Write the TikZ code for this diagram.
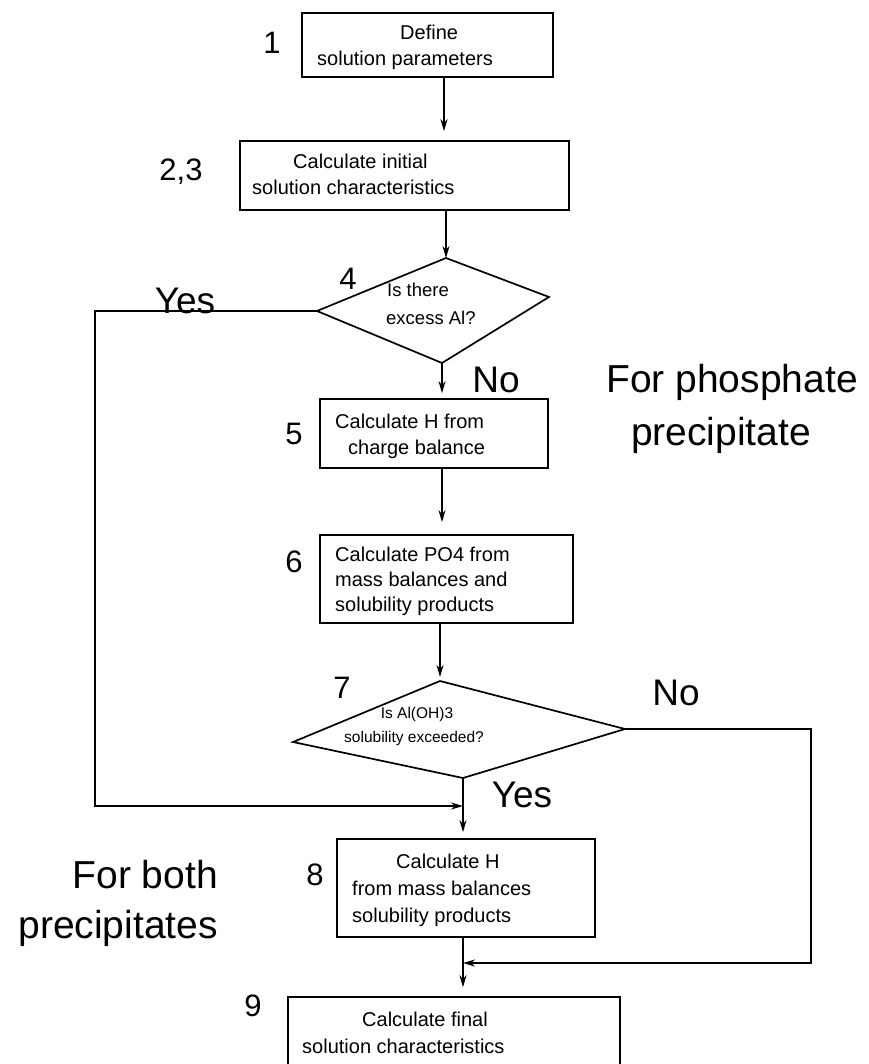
\documentclass[tikz,border=0pt]{standalone}
\usepackage{fontspec}
\setmainfont{Liberation Sans}
\usetikzlibrary{arrows.meta}
\begin{document}
\begin{tikzpicture}[x=1pt,y=-1pt,
  box/.style={draw, line width=1.7pt, rectangle, inner sep=0pt},
  ln/.style={line width=1.7pt, line join=miter},
  arr/.style={line width=1.7pt, -{Stealth[length=12pt,width=7pt]}},
  txt/.style={font=\fontsize{20}{20}\selectfont, anchor=base west, inner sep=0pt},
  dtxt/.style={font=\fontsize{18.5}{18.5}\selectfont, anchor=base west, inner sep=0pt},
  stxt/.style={font=\fontsize{15.5}{15.5}\selectfont, anchor=base, inner sep=0pt},
  num/.style={font=\fontsize{31}{31}\selectfont, inner sep=0pt, anchor=center},
  yn/.style={font=\fontsize{37}{37}\selectfont, inner sep=0pt, anchor=base},
  big/.style={font=\fontsize{39}{39}\selectfont, inner sep=0pt, anchor=base}]
\useasboundingbox (0,0) rectangle (868,1064);
\clip (0,0) rectangle (868,1064);

% boxes
\node[box, minimum width=251pt, minimum height=64pt] (B1) at (427.5,45) {};
\node[box, minimum width=329pt, minimum height=69pt] (B2) at (404.5,175.5) {};
\node[box, minimum width=228pt, minimum height=69pt] (B5) at (434,433.5) {};
\node[box, minimum width=253pt, minimum height=88pt] (B6) at (446.5,579) {};
\node[box, minimum width=258pt, minimum height=98pt] (B8) at (466,888) {};
\node[box, minimum width=332pt, minimum height=90pt] (B9) at (454,1042) {};

% diamonds
\coordinate (d4t) at (446,258);
\coordinate (d4l) at (317,311);
\coordinate (d4r) at (549,297);
\coordinate (d4b) at (442,363);
\draw[ln] (d4t) -- (d4r) -- (d4b) -- (d4l) -- cycle;
\coordinate (d7t) at (440,681);
\coordinate (d7l) at (293,742);
\coordinate (d7r) at (625,729);
\coordinate (d7b) at (463,778);
\draw[ln] (d7t) -- (d7r) -- (d7b) -- (d7l) -- cycle;

% box texts
\node[txt] (t1a) at (400,40) {Define};
\node[txt] (t1b) at (317,66) {solution parameters};
\node[txt] (t2a) at (293,169) {Calculate initial};
\node[txt] (t2b) at (252,195) {solution characteristics};
\node[dtxt] (t4a) at (387,297) {Is there};
\node[dtxt] (t4b) at (386,324) {excess Al?};
\node[txt] (t5a) at (335,428) {Calculate H from};
\node[txt] (t5b) at (348,454) {charge balance};
\node[txt] (t6a) at (335,561) {Calculate PO4 from};
\node[txt] (t6b) at (335,586) {mass balances and};
\node[txt] (t6c) at (335,611) {solubility products};
\node[stxt] (t7a) at (417,718) {Is Al(OH)3};
\node[stxt] (t7b) at (414,742) {solubility exceeded?};
\node[txt] (t8a) at (396,868) {Calculate H};
\node[txt] (t8b) at (352,895) {from mass balances};
\node[txt] (t8c) at (352,922) {solubility products};
\node[txt] (t9a) at (362,1026) {Calculate final};
\node[txt] (t9b) at (302,1053) {solution characteristics};

% step numbers
\node[num] (n1) at (272,43) {1};
\node[num] (n23) at (181,172) {2,3};
\node[num] (n4) at (348,279) {4};
\node[num] (n5) at (294,434) {5};
\node[num] (n6) at (294,562) {6};
\node[num] (n7) at (342,688) {7};
\node[num] (n8) at (315,875) {8};
\node[num] (n9) at (253,1006) {9};

% yes / no labels
\node[yn] (yes4) at (185,313) {Yes};
\node[yn] (no4) at (496,392) {No};
\node[yn] (no7) at (676,705) {No};
\node[yn] (yes7) at (522,807) {Yes};

% group labels
\node[big] (gp1) at (732,392) {For phosphate};
\node[big] (gp2) at (721,445) {precipitate};
\node[big, anchor=base east] (gb1) at (218,888) {For both};
\node[big, anchor=base east] (gb2) at (218,938) {precipitates};

% connectors
\coordinate (x12) at (444,0);
\coordinate (x56) at (442,0);
\coordinate (cl) at (95,806);
\coordinate (j8) at (463,806);
\coordinate (cr) at (811,963);
\coordinate (j9) at (463,963);
\draw[arr, shorten >=9pt] (x12 |- B1.south) -- (x12 |- B2.north);
\draw[arr] (d4t |- B2.south) -- (d4t);
\draw[arr, shorten >=5pt] (d4b) -- (d4b |- B5.north);
\draw[arr, shorten >=12pt] (x56 |- B5.south) -- (x56 |- B6.north);
\draw[arr, shorten >=4pt] (d7t |- B6.south) -- (d7t);
\draw[arr, shorten >=6pt] (d7b) -- (d7b |- B8.north);
\draw[arr] (d4l) -| (cl) -- (j8);
\draw[arr] (d7r) -| (cr) -- (j9);
\draw[arr, shorten >=9pt] (d7b |- B8.south) -- (d7b |- B9.north);
\end{tikzpicture}
\end{document}
